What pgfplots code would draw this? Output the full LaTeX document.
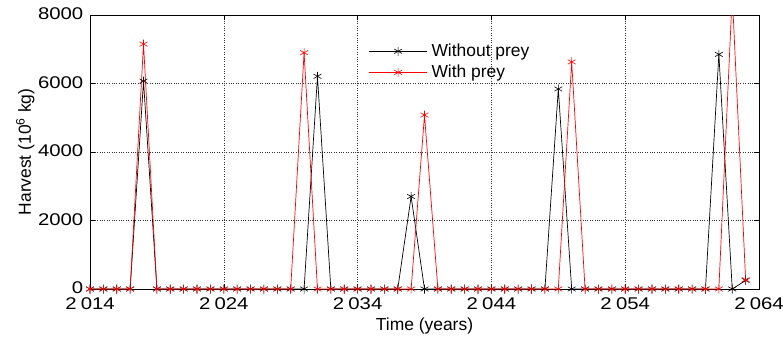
\documentclass[border=0pt]{standalone}
\usepackage{fontspec}
\setmainfont{Liberation Sans}
\newfontfamily\tickfont[FakeStretch=1.2]{Liberation Sans}
\usepackage{pgfplots}
\pgfplotsset{compat=1.18}
\begin{document}
\begin{tikzpicture}
\path[use as bounding box] (-90bp,-50bp) rectangle (693bp,289bp);
\begin{axis}[
  at={(0,0)}, anchor=south west,
  scale only axis, width=669bp, height=274bp,
  xmin=2014, xmax=2064, ymin=0, ymax=8000,
  xtick={2014,2024,...,2064}, ytick={0,2000,...,8000},
  /pgf/number format/assume math mode=true,
  xticklabel style={/pgf/number format/1000 sep={\kern0.25em}, inner sep=0pt, yshift=-8.5bp},
  yticklabel style={/pgf/number format/1000 sep={}, inner sep=0pt, xshift=-6.5bp, yshift=1bp},
  tick label style={font=\tickfont\fontsize{17}{20}\selectfont},
  label style={font=\fontsize{17.5}{20}\selectfont},
  xlabel={Time (years)}, ylabel={Harvest (10\textsuperscript{6} kg)},
  xlabel style={yshift=-5bp},
  ylabel style={yshift=0bp},
  tick align=inside, major tick length=5bp,
  grid=major, major grid style={black!80, dotted, line width=0.6pt},
  axis line style={line width=0.8pt},
  every tick/.style={black, line width=0.6pt},
  legend style={at={(0.415,0.905)}, anchor=north west, draw=none, fill=none,
    font=\fontsize{17.5}{20}\selectfont, row sep=3bp, inner sep=1bp,
    nodes={inner xsep=4bp}},
  legend cell align=left,
  legend image code/.code={\draw[mark repeat=2,mark phase=2,#1] plot coordinates {(0bp,0bp) (29bp,0bp) (58bp,0bp)};},
]
\addplot[black, line width=0.7pt, mark=asterisk, mark size=4.5bp, mark options={line width=0.6pt}] coordinates {
(2014,0)(2015,0)(2016,0)(2017,0)(2018,6070)(2019,0)(2020,0)(2021,0)(2022,0)(2023,0)
(2024,0)(2025,0)(2026,0)(2027,0)(2028,0)(2029,0)(2030,0)(2031,6210)(2032,0)(2033,0)
(2034,0)(2035,0)(2036,0)(2037,0)(2038,2700)(2039,0)(2040,0)(2041,0)(2042,0)(2043,0)
(2044,0)(2045,0)(2046,0)(2047,0)(2048,0)(2049,5840)(2050,0)(2051,0)(2052,0)(2053,0)
(2054,0)(2055,0)(2056,0)(2057,0)(2058,0)(2059,0)(2060,0)(2061,6850)(2062,0)(2063,250)
};
\addlegendentry{Without prey}
\addplot[red, line width=0.7pt, mark=asterisk, mark size=4.5bp, mark options={line width=0.6pt}] coordinates {
(2014,0)(2015,0)(2016,0)(2017,0)(2018,7150)(2019,0)(2020,0)(2021,0)(2022,0)(2023,0)
(2024,0)(2025,0)(2026,0)(2027,0)(2028,0)(2029,0)(2030,6900)(2031,0)(2032,0)(2033,0)
(2034,0)(2035,0)(2036,0)(2037,0)(2038,0)(2039,5080)(2040,0)(2041,0)(2042,0)(2043,0)
(2044,0)(2045,0)(2046,0)(2047,0)(2048,0)(2049,0)(2050,6630)(2051,0)(2052,0)(2053,0)
(2054,0)(2055,0)(2056,0)(2057,0)(2058,0)(2059,0)(2060,0)(2061,0)(2062,8600)(2063,270)
};
\addlegendentry{With prey}
\end{axis}
\end{tikzpicture}
\end{document}
